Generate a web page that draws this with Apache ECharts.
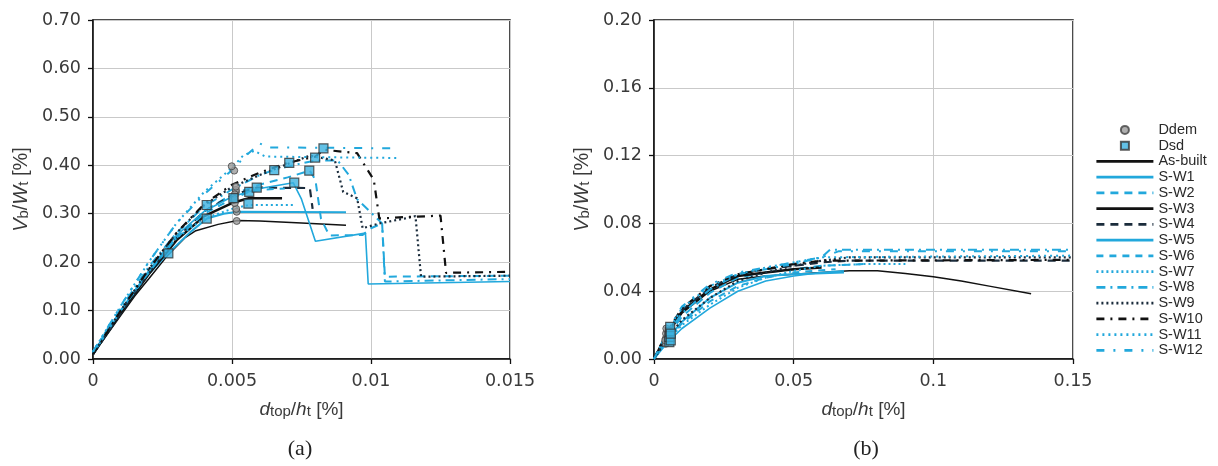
<!DOCTYPE html>
<html><head><meta charset="utf-8">
<script src="https://cdn.jsdelivr.net/npm/echarts@6/dist/echarts.min.js"></script>
<style>html,body{margin:0;padding:0;background:#fff}#c{width:1218px;height:466px}</style>
</head><body><div id="c"></div>
<script>
// ---------- names & ticks ----------
const lineNames = ['As-built','S-W1','S-W2','S-W3','S-W4','S-W5','S-W6','S-W7','S-W8','S-W9','S-W10','S-W11','S-W12'];
const aXTicks = [0, 0.005, 0.01, 0.015];
const aYTicks = [0, 0.1, 0.2, 0.3, 0.4, 0.5, 0.6, 0.7];
const bXTicks = [0, 0.05, 0.1, 0.15];
const bYTicks = [0, 0.04, 0.08, 0.12, 0.16, 0.2];

// ---------- (a) curves [dtop/ht, Vb/Wt] ----------
const aAsBuilt = [[0,0.01],[0.0005,0.05],[0.001,0.09],[0.0015,0.13],[0.002,0.165],[0.0027,0.215],[0.0033,0.25],[0.0037,0.265],[0.0045,0.278],[0.0052,0.286],[0.006,0.285],[0.0075,0.281],[0.0091,0.276]];
const aSW1 = [[0,0.01],[0.001,0.095],[0.002,0.175],[0.0027,0.218],[0.0035,0.262],[0.0041,0.29],[0.0047,0.3],[0.0052,0.304],[0.0091,0.303]];
const aSW2 = [[0,0.015],[0.001,0.1],[0.002,0.18],[0.003,0.25],[0.004,0.305],[0.005,0.34],[0.006,0.36],[0.007,0.375],[0.0078,0.389],[0.008,0.37],[0.0082,0.29],[0.0085,0.255],[0.0097,0.256],[0.01,0.27],[0.0104,0.28],[0.0105,0.17],[0.015,0.172]];
const aSW3 = [[0,0.01],[0.001,0.095],[0.002,0.175],[0.003,0.245],[0.004,0.295],[0.005,0.322],[0.0056,0.332],[0.0068,0.332]];
const aSW4 = [[0,0.01],[0.001,0.095],[0.002,0.178],[0.003,0.25],[0.004,0.305],[0.005,0.338],[0.0059,0.354],[0.0078,0.353],[0.0079,0.31]];
const aSW5 = [[0,0.01],[0.001,0.1],[0.002,0.182],[0.003,0.255],[0.004,0.305],[0.005,0.335],[0.006,0.352],[0.0072,0.364],[0.0075,0.33],[0.008,0.243],[0.0098,0.26],[0.0099,0.155],[0.015,0.16]];
const aSW6 = [[0,0.012],[0.001,0.1],[0.002,0.178],[0.003,0.25],[0.004,0.3],[0.005,0.33],[0.0056,0.345],[0.0062,0.35],[0.0069,0.352]];
const aSW7 = [[0,0.012],[0.001,0.1],[0.002,0.18],[0.003,0.25],[0.004,0.29],[0.005,0.31],[0.0056,0.318],[0.0072,0.318]];
const aSW8 = [[0,0.015],[0.001,0.105],[0.002,0.19],[0.003,0.26],[0.004,0.315],[0.005,0.35],[0.006,0.38],[0.0065,0.39],[0.0072,0.4],[0.008,0.41],[0.0088,0.41],[0.0092,0.38],[0.0095,0.33],[0.0104,0.28],[0.0105,0.16],[0.015,0.165]];
const aSW9 = [[0,0.01],[0.001,0.1],[0.002,0.185],[0.003,0.26],[0.004,0.318],[0.005,0.355],[0.006,0.38],[0.0071,0.405],[0.0078,0.42],[0.0087,0.41],[0.009,0.345],[0.0095,0.332],[0.0097,0.27],[0.0103,0.28],[0.0112,0.29],[0.0116,0.295],[0.0118,0.17],[0.015,0.172]];
const aSW10 = [[0,0.01],[0.001,0.1],[0.002,0.185],[0.003,0.26],[0.004,0.32],[0.005,0.36],[0.006,0.385],[0.007,0.405],[0.008,0.418],[0.0083,0.432],[0.0095,0.425],[0.0101,0.37],[0.0103,0.29],[0.0112,0.293],[0.0125,0.296],[0.0127,0.178],[0.015,0.18]];
const aSW11 = [[0,0.015],[0.001,0.11],[0.002,0.2],[0.003,0.28],[0.004,0.345],[0.005,0.395],[0.0054,0.42],[0.0058,0.43],[0.0062,0.418],[0.011,0.415]];
const aSW12 = [[0,0.015],[0.001,0.11],[0.002,0.2],[0.003,0.28],[0.004,0.34],[0.005,0.39],[0.0055,0.42],[0.006,0.445],[0.0063,0.437],[0.011,0.435]];
const aDdem = [[0.00517,0.285],[0.00517,0.304],[0.00515,0.31],[0.0051,0.322],[0.00505,0.33],[0.0051,0.336],[0.00514,0.345],[0.00514,0.349],[0.00514,0.356],[0.00508,0.389],[0.00499,0.398],[0.0051,0.34],[0.0051,0.33]];
const aDsd = [[0.00271,0.218],[0.00409,0.318],[0.00409,0.29],[0.00505,0.332],[0.00562,0.345],[0.00589,0.354],[0.00559,0.321],[0.00652,0.39],[0.00706,0.405],[0.00724,0.364],[0.00778,0.389],[0.00799,0.416],[0.00829,0.435]];

// ---------- (b) curves ----------
const bAsBuilt = [[0,0],[0.005,0.015],[0.01,0.027],[0.02,0.04],[0.03,0.047],[0.04,0.049],[0.05,0.05],[0.06,0.051],[0.07,0.052],[0.08,0.052],[0.09,0.0505],[0.1,0.0485],[0.11,0.046],[0.12,0.043],[0.135,0.0385]];
const bSW1 = [[0,0],[0.005,0.012],[0.01,0.022],[0.02,0.036],[0.03,0.045],[0.04,0.049],[0.05,0.05],[0.068,0.051]];
const bSW2 = [[0,0],[0.005,0.014],[0.01,0.025],[0.02,0.039],[0.03,0.048],[0.04,0.051],[0.05,0.053],[0.06,0.055],[0.075,0.056]];
const bSW3 = [[0,0],[0.005,0.016],[0.01,0.028],[0.02,0.041],[0.03,0.049],[0.04,0.051],[0.05,0.053],[0.06,0.054]];
const bSW4 = [[0,0],[0.005,0.016],[0.01,0.029],[0.02,0.042],[0.03,0.05],[0.04,0.053],[0.05,0.055],[0.06,0.057],[0.07,0.058],[0.15,0.058]];
const bSW5 = [[0,0],[0.005,0.01],[0.01,0.018],[0.02,0.03],[0.03,0.04],[0.04,0.046],[0.05,0.049],[0.06,0.051],[0.068,0.052]];
const bSW6 = [[0,0],[0.005,0.012],[0.01,0.021],[0.02,0.034],[0.03,0.043],[0.04,0.048],[0.05,0.051],[0.065,0.053]];
const bSW7 = [[0,0],[0.005,0.011],[0.01,0.02],[0.02,0.032],[0.03,0.042],[0.04,0.048],[0.05,0.052],[0.06,0.055],[0.075,0.056],[0.09,0.056]];
const bSW8 = [[0,0],[0.005,0.015],[0.01,0.027],[0.02,0.041],[0.03,0.05],[0.04,0.053],[0.05,0.056],[0.06,0.06],[0.063,0.0645],[0.15,0.0645]];
const bSW9 = [[0,0],[0.005,0.013],[0.01,0.023],[0.02,0.036],[0.03,0.046],[0.04,0.051],[0.05,0.055],[0.06,0.058],[0.07,0.06],[0.15,0.06]];
const bSW10 = [[0,0],[0.005,0.017],[0.01,0.03],[0.02,0.043],[0.03,0.05],[0.04,0.053],[0.05,0.056],[0.06,0.058],[0.15,0.0585]];
const bSW11 = [[0,0],[0.005,0.016],[0.01,0.03],[0.02,0.043],[0.03,0.05],[0.04,0.054],[0.05,0.057],[0.06,0.06],[0.15,0.061]];
const bSW12 = [[0,0],[0.005,0.017],[0.01,0.031],[0.02,0.044],[0.03,0.051],[0.04,0.054],[0.05,0.057],[0.06,0.06],[0.066,0.0635],[0.15,0.0635]];
const bDdem = [[0.0042,0.009],[0.0042,0.012],[0.0043,0.015],[0.0044,0.018],[0.004,0.011]];
const bDsd = [[0.0055,0.01],[0.0055,0.013],[0.0057,0.016],[0.0058,0.019],[0.006,0.011],[0.006,0.015]];

const aCurves = [aAsBuilt,aSW1,aSW2,aSW3,aSW4,aSW5,aSW6,aSW7,aSW8,aSW9,aSW10,aSW11,aSW12];
const bCurves = [bAsBuilt,bSW1,bSW2,bSW3,bSW4,bSW5,bSW6,bSW7,bSW8,bSW9,bSW10,bSW11,bSW12];

// ---------- styles ----------
const CY = '#22a8dc', NV = '#1b2c3c', BK = '#111111';
const styles = [
  {color:BK, width:1.5, type:'solid'},
  {color:CY, width:2, type:'solid'},
  {color:CY, width:2, type:[8,6]},
  {color:BK, width:2.5, type:'solid'},
  {color:NV, width:2.2, type:[8,6]},
  {color:CY, width:1.6, type:'solid'},
  {color:CY, width:2, type:[7,6]},
  {color:CY, width:2, type:[2,3]},
  {color:CY, width:2, type:[9,5,2,5]},
  {color:NV, width:2.2, type:[2,3]},
  {color:BK, width:2.2, type:[8,6,2,6]},
  {color:CY, width:2, type:[2,4]},
  {color:CY, width:2, type:[8,9,2,9]}
];

const FONT = '"Liberation Sans", Arial, sans-serif';
const TICKFONT = '"DejaVu Sans", sans-serif';
function axisCommon(){
  return {
    type:'value',
    axisLine:{show:true, onZero:false, lineStyle:{color:BK, width:1.5}},
    axisTick:{show:true, length:5, lineStyle:{color:BK, width:1.3}},
    splitLine:{show:true, lineStyle:{color:'#c9c9c9', width:1}}
  };
}
const yName = '{i|V}{s|b}{n|/}{i|W}{s|t}{n| [%]}';
const xName = '{i|d}{s|top}{n|/}{i|h}{s|t}{n| [%]}';
const yRich = {
  i:{fontSize:20, fontStyle:'italic', fontFamily:FONT, color:'#3a3a3a'},
  s:{fontSize:15, fontFamily:FONT, color:'#3a3a3a', padding:[5,0,0,0]},
  n:{fontSize:20, fontFamily:FONT, color:'#3a3a3a'}
};
const xRich = {
  i:{fontSize:19, fontStyle:'italic', fontFamily:FONT, color:'#3a3a3a'},
  s:{fontSize:15, fontFamily:FONT, color:'#3a3a3a', padding:[4,0,0,0]},
  n:{fontSize:19, fontFamily:FONT, color:'#3a3a3a'}
};

function xAxis(grid, ticks, dec){
  const step = ticks[1]-ticks[0];
  return Object.assign(axisCommon(), {
    gridIndex:grid, min:ticks[0], max:ticks[ticks.length-1], interval:step,
    axisLabel:{fontSize:17.5, color:'#3a3a3a', fontFamily:TICKFONT, margin:13,
      formatter:v=>String(+(+v).toFixed(dec))},
    name:xName, nameLocation:'middle', nameGap:41,
    nameTextStyle:{rich:xRich}
  });
}
function yAxis(grid, ticks, dec){
  const step = ticks[1]-ticks[0];
  return Object.assign(axisCommon(), {
    gridIndex:grid, min:ticks[0], max:ticks[ticks.length-1], interval:step,
    axisLabel:{fontSize:17.5, color:'#3a3a3a', fontFamily:TICKFONT, margin:12,
      formatter:v=>(+v).toFixed(dec)},
    name:yName, nameLocation:'middle', nameGap:62,
    nameTextStyle:{rich:yRich}
  });
}

const series = [];
[0,1].forEach(g=>{
  const dd = g===0 ? aDdem : bDdem;
  const ds = g===0 ? aDsd : bDsd;
  const curves = g===0 ? aCurves : bCurves;
  curves.forEach((c,k)=>{
    series.push({
      name:lineNames[k], type:'line', xAxisIndex:g, yAxisIndex:g, data:c,
      symbol:'none', lineStyle:Object.assign({}, styles[k]), itemStyle:{color:styles[k].color},
      z:2, animation:false, clip:true
    });
  });
  series.push({name:'Ddem', type:'scatter', xAxisIndex:g, yAxisIndex:g, data:dd,
    symbol:'circle', symbolSize:7, z:5, animation:false,
    itemStyle:{color:'#9b9b9b', borderColor:'#444', borderWidth:1}});
  series.push({name:'Dsd', type:'scatter', xAxisIndex:g, yAxisIndex:g, data:ds,
    symbol:'rect', symbolSize:9, z:6, animation:false,
    itemStyle:{color:'#3cb2e0', borderColor:'#333', borderWidth:1.2}});
});

const legendData = [
  {name:'Ddem', icon:'circle'},
  {name:'Dsd', icon:'path://M0,0h10v10h-10z'}
].concat(lineNames.map(n=>({name:n, itemStyle:{opacity:0}})));

const option = {
  backgroundColor:'#fff',
  animation:false,
  grid:[
    {left:93, right:708, top:20, bottom:107, show:true, borderColor:BK, borderWidth:1.5},
    {left:654, right:145, top:20, bottom:107, show:true, borderColor:BK, borderWidth:1.5}
  ],
  xAxis:[xAxis(0,aXTicks,3), xAxis(1,bXTicks,2)],
  yAxis:[yAxis(0,aYTicks,2), yAxis(1,bYTicks,2)],
  legend:{
    orient:'vertical', left:1090, top:117,
    data:legendData,
    itemWidth:57, itemHeight:8, itemGap:0,
    lineStyle:{width:2.8},
    textStyle:{fontSize:14.5, color:'#2a2a2a', fontFamily:FONT, lineHeight:15.75, padding:[0,0,0,0]},
    selectedMode:false
  },
  graphic:[
    {type:'text', x:300, y:449, style:{text:'(a)', align:'center', verticalAlign:'middle', fontSize:22, fontFamily:'"Liberation Serif", serif', fill:'#222'}},
    {type:'text', x:866, y:449, style:{text:'(b)', align:'center', verticalAlign:'middle', fontSize:22, fontFamily:'"Liberation Serif", serif', fill:'#222'}}
  ],
  series:series
};
const chart = echarts.init(document.getElementById('c'), null, {renderer:'canvas'});
chart.setOption(option);
</script></body></html>
